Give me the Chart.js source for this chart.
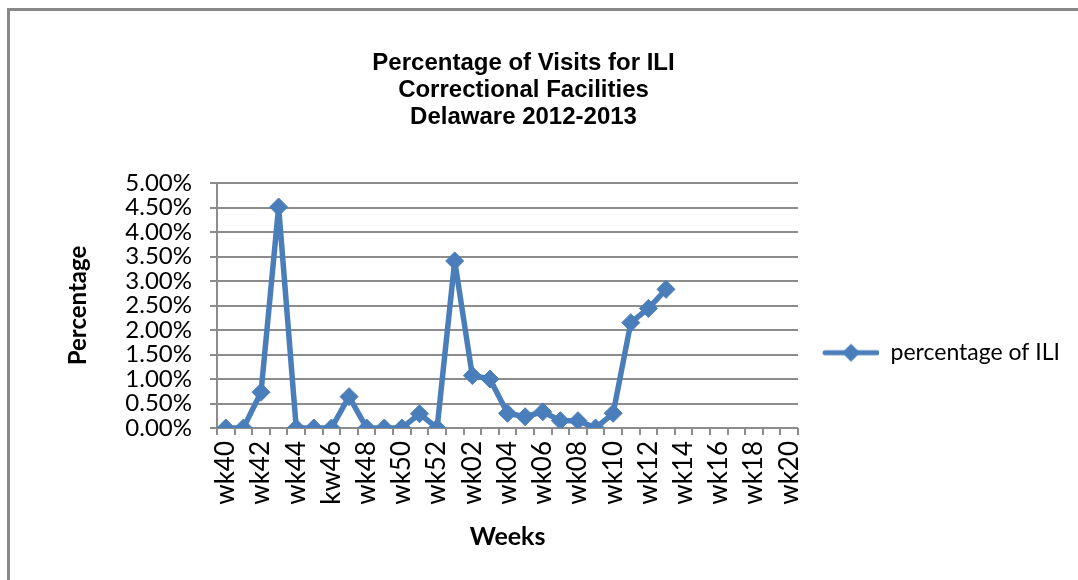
<!DOCTYPE html>
<html>
<head>
<meta charset="utf-8">
<script src="https://cdn.jsdelivr.net/npm/chart.js@4"></script>
<style>
  body { margin: 0; background: #fff; }
  #wrap { position: relative; width: 1078px; height: 580px; }
  #frame { position: absolute; left: 7px; top: 8px; right: -10px; bottom: -10px;
           border-left: 3px solid #888; border-top: 3px solid #888; pointer-events: none; }
</style>
</head>
<body>
<div id="wrap">
  <canvas id="iliChart"></canvas>
  <div id="frame"></div>
</div>
<script>
// weeks of the 2012-2013 season (the original sheet has the "kw46" typo)
const weeks = ["wk40", "wk41", "wk42", "wk43", "wk44", "wk45", "kw46", "wk47", "wk48", "wk49",
  "wk50", "wk51", "wk52", "wk01", "wk02", "wk03", "wk04", "wk05", "wk06", "wk07", "wk08",
  "wk09", "wk10", "wk11", "wk12", "wk13", "wk14", "wk15", "wk16", "wk17", "wk18", "wk19", "wk20"];

// percentage of ILI visits (in %), no data after wk13
const iliPct = [0, 0, 0.73, 4.51, 0, 0, 0, 0.64, 0, 0,
  0, 0.29, 0, 3.41, 1.07, 1.00, 0.30, 0.23, 0.33, 0.15, 0.15,
  0, 0.30, 2.15, 2.44, 2.83, null, null, null, null, null, null, null];

const titleLines = ["Percentage of Visits for ILI", "Correctional Facilities", "Delaware 2012-2013"];
const blue = "#4a7ebb";
const gridGray = "#8c8c8c";

// legend marker: line with a diamond in the middle (blank room on the left)
const marker = document.createElement("canvas");
marker.width = 77; marker.height = 22;
(function () {
  const c = marker.getContext("2d");
  c.strokeStyle = blue; c.lineWidth = 5; c.lineCap = "round";
  c.beginPath(); c.moveTo(23, 11); c.lineTo(75, 11); c.stroke();
  c.fillStyle = blue;
  c.beginPath(); c.moveTo(49, 2); c.lineTo(58, 11); c.lineTo(49, 20); c.lineTo(40, 11); c.closePath(); c.fill();
})();

const ctx = document.getElementById("iliChart").getContext("2d");
const chart = new Chart(ctx, {
  type: "line",
  data: {
    labels: weeks,
    datasets: [{
      label: "percentage of ILI",
      data: iliPct,
      borderColor: blue,
      backgroundColor: blue,
      borderWidth: 5.5,
      borderJoinStyle: "round",
      pointStyle: "rectRot",
      pointRadius: 9,
      pointBorderWidth: 1,
      pointBackgroundColor: blue,
      pointBorderColor: blue,
      spanGaps: false
    }]
  },
  options: {
    responsive: true,
    maintainAspectRatio: false,
    animation: false,
    events: [],
    layout: { padding: { left: -23, right: 8, top: 0, bottom: 0 } },
    plugins: {
      title: {
        display: true,
        text: titleLines,
        color: "#000",
        font: { family: "'Liberation Sans', Arial", size: 24, weight: "bold", lineHeight: 1.125 },
        padding: { top: 50, bottom: 52 }
      },
      legend: {
        position: "right",
        fullSize: false,
        title: { display: true, text: " ", color: "rgba(0,0,0,0)", padding: { top: 80, bottom: 0 } },
        labels: {
          usePointStyle: true,
          pointStyle: marker,
          pointStyleWidth: 77,
          color: "#000",
          padding: 4,
          font: { family: "Lato", size: 23 }
        }
      },
      tooltip: { enabled: false }
    },
    scales: {
      x: {
        offset: true,
        afterFit: (s) => { s.height = 152; },
        grid: { offset: true, drawOnChartArea: false, drawTicks: true, tickLength: 7, color: gridGray, lineWidth: 2 },
        border: { display: false },
        ticks: {
          autoSkip: false,
          minRotation: 90,
          maxRotation: 90,
          padding: 6,
          color: "#000",
          font: { family: "Lato", size: 26 },
          callback: (v, i) => (i % 2 === 0 ? weeks[i] : "")
        },
        title: {
          display: true,
          text: "Weeks",
          color: "#000",
          font: { family: "Lato", size: 25, weight: "bold" },
          padding: { top: 0, bottom: 28 }
        }
      },
      y: {
        min: 0,
        max: 5,
        afterFit: (s) => { s.width = 240; },
        grid: { color: gridGray, lineWidth: 2, tickLength: 7 },
        border: { display: true, color: gridGray, width: 2 },
        ticks: {
          stepSize: 0.5,
          autoSkip: false,
          padding: 18,
          color: "#000",
          font: { family: "Lato", size: 24 },
          callback: (v) => v.toFixed(2) + "%"
        },
        title: {
          display: true,
          text: "Percentage",
          color: "#000",
          font: { family: "Lato", size: 24, weight: "bold" },
          padding: { top: 87, bottom: 0 }
        }
      }
    }
  }
});
</script>
</body>
</html>
